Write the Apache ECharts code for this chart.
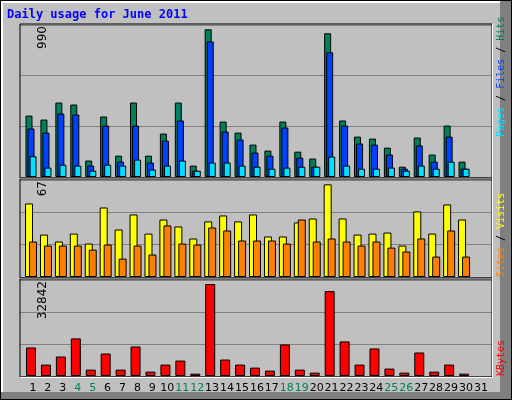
<!DOCTYPE html>
<html><head><meta charset="utf-8">
<script src="https://cdn.jsdelivr.net/npm/echarts@6/dist/echarts.min.js"></script>
<style>html,body{margin:0;padding:0;background:#c0c0c0}#c{width:512px;height:400px}</style>
</head><body><div id="c"></div>
<script>
const days=[];for(let i=1;i<=31;i++)days.push(i);
const weekends=[4,5,11,12,18,19,25,26];
const hits=[400,374,485,472,107,394,139,485,139,283,485,74,962,361,289,211,172,361,165,120,936,368,263,250,191,67,257,146,335,100,null];
const files=[316,289,413,407,74,335,100,335,94,237,368,41,883,296,244,159,139,322,126,67,812,335,218,211,146,54,205,100,263,54,null];
const pages=[135,61,80,74,41,80,74,113,48,74,107,41,94,94,74,67,54,61,67,67,133,74,54,54,61,41,74,54,100,54,null];
const visits=[50.8,29.3,24.5,30,23.1,48,32.8,43.2,30,39.7,34.9,26.6,38.4,42.5,38.4,43.2,28,28,37.7,40.4,64,40.4,29.3,30,30.7,21.7,45.3,30,50.1,39.7,null];
const sites=[24.5,21.7,21.7,21.7,18.9,22.4,12.7,21.7,15.5,35.6,23.1,22.4,34.2,32.1,25.2,25.2,25.2,23.1,39.7,24.5,26.6,24.5,21.7,24.5,20.3,17.6,26.6,14.1,32.1,14.1,null];
const kbytes=[9760,3900,6660,12860,2180,7690,2180,10100,1490,3900,5280,800,31460,5630,3900,2870,1840,10790,2180,1150,29050,11830,3900,9420,2530,1150,8040,1490,3900,800,null];
const axisMax=[990,67,32842];

const ch=echarts.init(document.getElementById('c'));
const grids=[{top:25,height:152},{top:180,height:97},{top:280,height:96}];
const xMin=0.262,xMax=31.87;
function dayOf(v){return Math.round(v-xMin);}
function xa(i,show){return {type:'value',gridIndex:i,min:xMin,max:xMax,interval:1,
 axisLine:{show:false},axisTick:{show:false},splitLine:{show:false},
 axisLabel:{show:show,margin:7,padding:[0,4,0,0],fontFamily:'DejaVu Sans',fontSize:11,showMinLabel:true,showMaxLabel:false,
  formatter:v=>{const d=dayOf(v);return (d>=1&&d<=31)?String(d):'';},
  color:v=>weekends.indexOf(dayOf(v))>=0?'#00805c':'#000'}};}
function ya(i){return {type:'value',gridIndex:i,min:0,max:axisMax[i],interval:axisMax[i]/3,
 axisLine:{show:false},axisTick:{show:false},axisLabel:{show:false},
 splitLine:{lineStyle:{color:'#808080',width:1}}};}
function pts(arr){return arr.map((v,i)=>[days[i],v]);}
function bar(i,name,arr,color,w,gap){return {type:'bar',name,xAxisIndex:i,yAxisIndex:i,data:pts(arr),
 barWidth:w,barGap:gap,itemStyle:{color,borderColor:'#000',borderWidth:1},silent:true,animation:false};}
function vtext(x,y,rich,text){return {type:'text',x,y,rotation:Math.PI/2,style:{text,rich,align:'left',verticalAlign:'middle',fontFamily:'DejaVu Sans Mono',fontSize:10}};}
const g=[
 {type:'rect',z:-10,shape:{x:0,y:0,width:512,height:400},style:{fill:'#000'}},
 {type:'rect',z:-10,shape:{x:1,y:1,width:510,height:398},style:{fill:'#808080'}},
 {type:'rect',z:-10,shape:{x:1,y:1,width:499,height:391},style:{fill:'#fff'}},
 {type:'rect',z:-10,shape:{x:3,y:3,width:497,height:389},style:{fill:'#c0c0c0'}},
 {type:'text',z:100,x:7,y:15,style:{text:'Daily usage for June 2011',fill:'#0000ff',font:'bold 12px "DejaVu Sans Mono"',verticalAlign:'middle'}},
];
grids.forEach((gr,i)=>{
 g.push({type:'rect',z:100,shape:{x:20,y:gr.top-1,width:472,height:gr.height+2},style:{fill:null,stroke:'#000',lineWidth:1}});
 g.push({type:'line',z:100,shape:{x1:20,y1:gr.top+gr.height+1.5,x2:492.5,y2:gr.top+gr.height+1.5},style:{stroke:'#fff',lineWidth:1}});
 g.push({type:'line',z:100,shape:{x1:492.5,y1:gr.top-1,x2:492.5,y2:gr.top+gr.height+1.5},style:{stroke:'#fff',lineWidth:1}});
 g.push({type:'text',z:100,x:43,y:gr.top+1,rotation:Math.PI/2,style:{text:String(axisMax[i]),align:'right',verticalAlign:'middle',font:'12px "DejaVu Sans"',fill:'#000'}});
});
[vtext(501,137,{p:{fill:'#00e0ff'},f:{fill:'#0040ff'},h:{fill:'#00805c'},s:{fill:'#000'}},'{p|Pages}{s| / }{f|Files}{s| / }{h|Hits}'),
 vtext(501,277,{v:{fill:'#ffff00'},o:{fill:'#ff8000'},s:{fill:'#000'}},'{o|Sites}{s| / }{v|Visits}'),
 vtext(501,376,{k:{fill:'#ff0000'}},'{k|KBytes}')].forEach(e=>{e.z=100;g.push(e);});
ch.setOption({animation:false,
 grid:grids.map(gr=>({left:20,right:20,top:gr.top,height:gr.height})),
 xAxis:[xa(0,false),xa(1,false),xa(2,true)],
 yAxis:[ya(0),ya(1),ya(2)],
 graphic:{elements:g},
 series:[bar(0,'Hits',hits,'#00805c',7,'-71%'),bar(0,'Files',files,'#0040ff',7,'-71%'),bar(0,'Pages',pages,'#00e0ff',7,'-71%'),
  bar(1,'Visits',visits,'#ffff00',8,'-50%'),bar(1,'Sites',sites,'#ff8000',8,'-50%'),
  bar(2,'KBytes',kbytes,'#ff0000',10,'0%')]
});
</script></body></html>
